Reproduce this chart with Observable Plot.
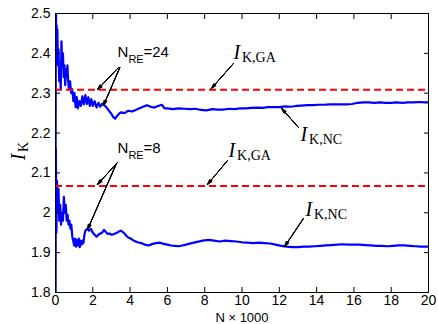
<!DOCTYPE html>
<html>
<head>
<meta charset="utf-8">
<script src="https://cdn.jsdelivr.net/npm/d3@7"></script>
<script src="https://cdn.jsdelivr.net/npm/@observablehq/plot@0.6"></script>
<style>
  html, body { margin: 0; padding: 0; background: white; }
</style>
</head>
<body>
<div id="chart"></div>
<script>
// ---- data ----
const xTicks = [0, 2, 4, 6, 8, 10, 12, 14, 16, 18, 20];
const yTicks = [1.8, 1.9, 2, 2.1, 2.2, 2.3, 2.4, 2.5];

// N_RE = 24 : I_K,NC estimate vs N (x1000)
const upperCurve = [
  [0.005, 2.05], [0.02, 2.56], [0.04, 2.40], [0.06, 2.47], [0.08, 2.44], [0.1, 2.46],
  [0.13, 2.37], [0.16, 2.41], [0.2, 2.33], [0.24, 2.36], [0.28, 2.31], [0.32, 2.43],
  [0.36, 2.37], [0.4, 2.40], [0.44, 2.34], [0.48, 2.37], [0.52, 2.32], [0.56, 2.36],
  [0.6, 2.34], [0.64, 2.37], [0.68, 2.33], [0.72, 2.31], [0.78, 2.33], [0.84, 2.30],
  [0.9, 2.31], [0.96, 2.28], [1.02, 2.30], [1.08, 2.265], [1.14, 2.29], [1.2, 2.262],
  [1.28, 2.28], [1.36, 2.268], [1.44, 2.292], [1.52, 2.272], [1.6, 2.295], [1.68, 2.273],
  [1.76, 2.29], [1.84, 2.268], [1.92, 2.285], [2.0, 2.268], [2.1, 2.28], [2.2, 2.264],
  [2.3, 2.276], [2.4, 2.266], [2.5, 2.274], [2.6, 2.27], [2.7, 2.266], [2.8, 2.26],
  [2.9, 2.254], [3.0, 2.248], [3.1, 2.24], [3.2, 2.236], [3.3, 2.243], [3.4, 2.248],
  [3.5, 2.252], [3.7, 2.25], [3.9, 2.256], [4.1, 2.254], [4.3, 2.258], [4.5, 2.262],
  [4.7, 2.266], [4.9, 2.27], [5.1, 2.266], [5.3, 2.264], [5.5, 2.268], [5.7, 2.271],
  [5.85, 2.262], [6.0, 2.262], [6.3, 2.26], [6.6, 2.262], [6.9, 2.261], [7.2, 2.26],
  [7.5, 2.261], [7.8, 2.258], [8.1, 2.257], [8.4, 2.26], [8.7, 2.259], [9.0, 2.259],
  [9.3, 2.261], [9.6, 2.26], [9.9, 2.262], [10.2, 2.262], [10.5, 2.263], [10.8, 2.264],
  [11.1, 2.263], [11.4, 2.265], [11.7, 2.265], [12.0, 2.265], [12.3, 2.267], [12.6, 2.266],
  [12.9, 2.268], [13.2, 2.269], [13.5, 2.27], [13.8, 2.27], [14.1, 2.271], [14.4, 2.271],
  [14.7, 2.272], [15.0, 2.272], [15.3, 2.272], [15.6, 2.272], [15.9, 2.273], [16.2, 2.276],
  [16.5, 2.277], [16.8, 2.277], [17.1, 2.276], [17.4, 2.277], [17.7, 2.276], [18.0, 2.276],
  [18.3, 2.277], [18.6, 2.276], [18.9, 2.277], [19.2, 2.277], [19.5, 2.278], [19.8, 2.277],
  [20, 2.277]
];

// N_RE = 8 : I_K,NC estimate vs N (x1000)
const lowerCurve = [
  [0.005, 1.75], [0.02, 2.16], [0.05, 1.95], [0.08, 2.08], [0.12, 2.0], [0.16, 2.06],
  [0.2, 1.98], [0.25, 2.02], [0.3, 1.97], [0.35, 2.0], [0.4, 1.98], [0.45, 2.04],
  [0.5, 2.0], [0.55, 2.02], [0.6, 1.98], [0.65, 1.995], [0.7, 1.97], [0.75, 1.98],
  [0.8, 1.96], [0.85, 1.97], [0.9, 1.94], [0.95, 1.93], [1.0, 1.918], [1.05, 1.935],
  [1.1, 1.915], [1.15, 1.932], [1.2, 1.918], [1.25, 1.935], [1.3, 1.914], [1.35, 1.93],
  [1.4, 1.92], [1.45, 1.93], [1.5, 1.924], [1.55, 1.945], [1.6, 1.955], [1.7, 1.96],
  [1.8, 1.955], [1.9, 1.96], [2.0, 1.95], [2.1, 1.945], [2.2, 1.94], [2.3, 1.945],
  [2.4, 1.948], [2.5, 1.95], [2.6, 1.957], [2.7, 1.952], [2.8, 1.947], [2.9, 1.948],
  [3.0, 1.945], [3.1, 1.946], [3.2, 1.948], [3.3, 1.95], [3.4, 1.953], [3.5, 1.955],
  [3.6, 1.952], [3.7, 1.948], [3.8, 1.942], [3.9, 1.938], [4.0, 1.936], [4.2, 1.93],
  [4.4, 1.926], [4.6, 1.924], [4.8, 1.92], [5.0, 1.918], [5.2, 1.922], [5.4, 1.924],
  [5.6, 1.925], [5.8, 1.922], [6.0, 1.92], [6.2, 1.918], [6.4, 1.917], [6.6, 1.916],
  [6.8, 1.918], [7.0, 1.92], [7.3, 1.924], [7.6, 1.927], [7.9, 1.93], [8.2, 1.932],
  [8.5, 1.93], [8.8, 1.928], [9.1, 1.93], [9.4, 1.929], [9.7, 1.928], [10.0, 1.926],
  [10.3, 1.925], [10.6, 1.924], [10.9, 1.925], [11.2, 1.924], [11.5, 1.923], [11.8, 1.92],
  [12.1, 1.917], [12.4, 1.915], [12.7, 1.914], [13.0, 1.914], [13.3, 1.915], [13.6, 1.915],
  [13.9, 1.916], [14.2, 1.917], [14.5, 1.918], [14.8, 1.919], [15.1, 1.92], [15.4, 1.921],
  [15.7, 1.92], [16.0, 1.92], [16.3, 1.92], [16.6, 1.919], [16.9, 1.918], [17.2, 1.917],
  [17.5, 1.917], [17.8, 1.916], [18.1, 1.917], [18.4, 1.918], [18.7, 1.918], [19.0, 1.917],
  [19.3, 1.916], [19.6, 1.915], [20, 1.915]
];

// I_K,GA reference levels
const gaLevels = [2.309, 2.067];

// annotation anchors (data coordinates)
const gaLabelPos = [[9.54, 2.387], [9.28, 2.139]];
const ncLabelPos = [[13.14, 2.181], [13.4, 1.993]];
const nreLabelPos = [[3.32, 2.39], [3.32, 2.151]];
const nreValues = ["=24", "=8"];
// arrows: [N1, I1, N2, I2]
const arrows = [
  [3.38, 2.3645, 2.25, 2.309],
  [3.45, 2.3645, 2.57, 2.269],
  [9.54, 2.3746, 8.36, 2.3118],
  [13.03, 2.214, 12.12, 2.262],
  [3.32, 2.126, 2.25, 2.071],
  [3.27, 2.124, 1.72, 1.958],
  [9.22, 2.131, 8.15, 2.071],
  [13.3, 1.986, 12.28, 1.915]
];

// ---- chart ----
const serif = "'Liberation Serif', 'Times New Roman', serif";
const sans = "'Liberation Sans', Arial, Helvetica, sans-serif";
const blue = "#0000ff";

const arrowMarks = [34, 24, 14, 6].map(a => Plot.arrow(arrows, {
  x1: d => d[0], y1: d => d[1], x2: d => d[2], y2: d => d[3],
  stroke: "black", strokeWidth: 1, headAngle: a, headLength: 8
}));

const chart = Plot.plot({
  width: 438,
  height: 324,
  marginLeft: 55,
  marginRight: 10,
  marginTop: 13,
  marginBottom: 32,
  style: { fontFamily: sans, fontSize: "14px", color: "black", background: "white", overflow: "visible" },
  x: { domain: [0, 20], label: null },
  y: { domain: [1.8, 2.5], label: null },
  marks: [
    Plot.line(upperCurve, { x: d => d[0], y: d => d[1], stroke: blue, strokeWidth: 2.2, clip: true }),
    Plot.line(lowerCurve, { x: d => d[0], y: d => d[1], stroke: blue, strokeWidth: 2.2, clip: true }),
    Plot.ruleY(gaLevels, { stroke: "#ff0000", strokeWidth: 2, strokeDasharray: "7,4" }),
    Plot.frame({ stroke: "black", strokeWidth: 1 }),
    // tick labels
    Plot.axisX(xTicks, { anchor: "bottom", tickSize: 0, tickPadding: 3, tickFormat: d => String(d), fontSize: 14, label: null }),
    Plot.axisY(yTicks, { anchor: "left", tickSize: 0, tickPadding: 5, tickFormat: d => String(d), fontSize: 14, label: null }),
    // inward ticks on all four sides
    Plot.axisX(xTicks, { anchor: "bottom", tickSize: -5, tickFormat: () => "", label: null }),
    Plot.axisX(xTicks, { anchor: "top", tickSize: -5, tickFormat: () => "", label: null }),
    Plot.axisY(yTicks, { anchor: "left", tickSize: -5, tickFormat: () => "", label: null }),
    Plot.axisY(yTicks, { anchor: "right", tickSize: -5, tickFormat: () => "", label: null }),
    // x axis title
    Plot.text(["N \u00d7 1000"], { frameAnchor: "bottom", text: d => d, dy: 29, lineAnchor: "bottom", fontSize: 13, fontFamily: sans }),
    // y axis title I_K
    Plot.text(["I"], { frameAnchor: "left", text: d => d, rotate: -90, dx: -31, dy: 4, lineAnchor: "bottom", textAnchor: "middle", fontSize: 20, fontStyle: "italic", fontFamily: serif }),
    Plot.text(["K"], { frameAnchor: "left", text: d => d, rotate: -90, dx: -28, dy: -6, lineAnchor: "bottom", textAnchor: "middle", fontSize: 14, fontFamily: serif }),
    // arrows
    ...arrowMarks,
    // I_K,GA labels
    Plot.text(gaLabelPos, { x: d => d[0], y: d => d[1], text: () => "I", textAnchor: "start", lineAnchor: "bottom", fontSize: 20, fontStyle: "italic", fontFamily: serif }),
    Plot.text(gaLabelPos, { x: d => d[0], y: d => d[1], text: () => "K,GA", textAnchor: "start", lineAnchor: "bottom", dx: 8.5, dy: 3, fontSize: 14, fontFamily: serif }),
    // I_K,NC labels
    Plot.text(ncLabelPos, { x: d => d[0], y: d => d[1], text: () => "I", textAnchor: "start", lineAnchor: "bottom", fontSize: 20, fontStyle: "italic", fontFamily: serif }),
    Plot.text(ncLabelPos, { x: d => d[0], y: d => d[1], text: () => "K,NC", textAnchor: "start", lineAnchor: "bottom", dx: 8.5, dy: 3, fontSize: 14, fontFamily: serif }),
    // N_RE labels
    Plot.text(nreLabelPos, { x: d => d[0], y: d => d[1], text: () => "N", textAnchor: "start", lineAnchor: "bottom", fontSize: 15, fontFamily: sans }),
    Plot.text(nreLabelPos, { x: d => d[0], y: d => d[1], text: () => "RE", textAnchor: "start", lineAnchor: "bottom", dx: 11, dy: 6, fontSize: 11, fontFamily: sans }),
    Plot.text(nreLabelPos, { x: d => d[0], y: d => d[1], text: (d, i) => nreValues[i], textAnchor: "start", lineAnchor: "bottom", dx: 26, fontSize: 15, fontFamily: sans })
  ]
});
document.getElementById("chart").appendChild(chart);
</script>
</body>
</html>
